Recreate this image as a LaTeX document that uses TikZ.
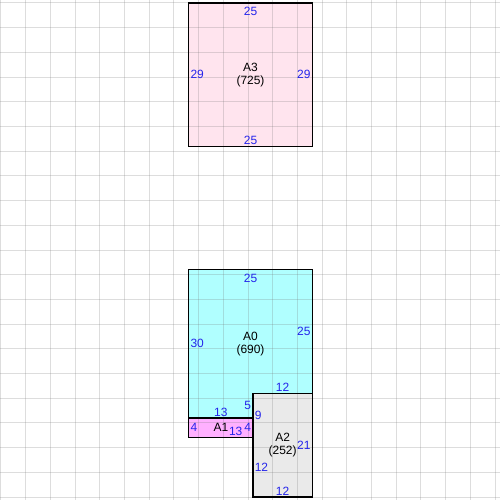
\documentclass[tikz,border=0pt]{standalone}
\usepackage{fontspec}
\setmainfont{Liberation Sans}
\definecolor{lbl}{RGB}{36,36,235}
\definecolor{pinkA}{RGB}{255,228,238}
\definecolor{cyanA}{RGB}{176,255,255}
\definecolor{magA}{RGB}{255,176,255}
\definecolor{grayA}{RGB}{234,234,234}
\definecolor{gridc}{RGB}{120,120,120}
\begin{document}
\begin{tikzpicture}[x=1mm,y=-1mm,
  every node/.style={font=\fontsize{6.9}{7.5}\selectfont, inner sep=0.3mm},
  dimlbl/.style={text=lbl},
  piecelbl/.style={align=center, text=black},
  piece/.style={draw=black, line width=0.27mm},
  gridline/.style={draw=gridc, line width=0.2mm, opacity=0.25}]
\useasboundingbox (-0.2,-0.6) rectangle (101.0,100.6);
% fills
\fill[pinkA] (38,0) rectangle (63,29);
\fill[cyanA] (38,54) -- (63,54) -- (63,79) -- (51,79) -- (51,84) -- (38,84) -- cycle;
\fill[magA] (38,84) rectangle (51,88);
\fill[grayA] (51,79) rectangle (63,100);
% grid
\foreach \k in {0,5,...,100} {
  \draw[gridline] (\k,-0.6) -- (\k,100.6);
  \draw[gridline] (-0.2,\k) -- (101.0,\k);
}
% outlines
\draw[piece] (38,0) rectangle (63,29);
\draw[piece] (38,54) -- (63,54) -- (63,79) -- (51,79) -- (51,84) -- (38,84) -- cycle;
\draw[piece] (38,84) rectangle (51,88);
\draw[piece] (51,79) rectangle (63,100);
% A3
\node[piecelbl] (a3) at (50.5,14.5) {A3\\(725)};
\node[dimlbl,anchor=north] (a3t) at (50.5,0.5) {25};
\node[dimlbl,anchor=south] (a3b) at (50.5,29) {25};
\node[dimlbl,anchor=west] (a3l) at (38,14.5) {29};
\node[dimlbl,anchor=east] (a3r) at (63,14.5) {29};
% A0
\node[piecelbl] (a0) at (50.5,69) {A0\\(690)};
\node[dimlbl,anchor=north] (a0t) at (50.5,54.5) {25};
\node[dimlbl,anchor=west] (a0l) at (38,69) {30};
\node[dimlbl,anchor=east] (a0r) at (63,66.5) {25};
\node[dimlbl,anchor=south] (a0s1) at (57,79) {12};
\node[dimlbl,anchor=east] (a0s2) at (51,81.5) {5};
\node[dimlbl,anchor=south] (a0s3) at (44.5,84) {13};
% A1
\node[piecelbl] (a1) at (44.5,86) {A1};
\node[dimlbl,anchor=west] (a1l) at (38,86) {4};
\node[dimlbl,anchor=east] (a1r) at (51,86) {4};
\node[dimlbl] (a1b) at (47.5,86.8) {13};
% A2
\node[piecelbl] (a2) at (57,89.5) {A2\\(252)};
\node[dimlbl,anchor=west] (a2l1) at (51,83.5) {9};
\node[dimlbl,anchor=west] (a2l2) at (51,94) {12};
\node[dimlbl,anchor=east] (a2r) at (63,89.5) {21};
\node[dimlbl,anchor=south] (a2b) at (57,100) {12};
\end{tikzpicture}
\end{document}
